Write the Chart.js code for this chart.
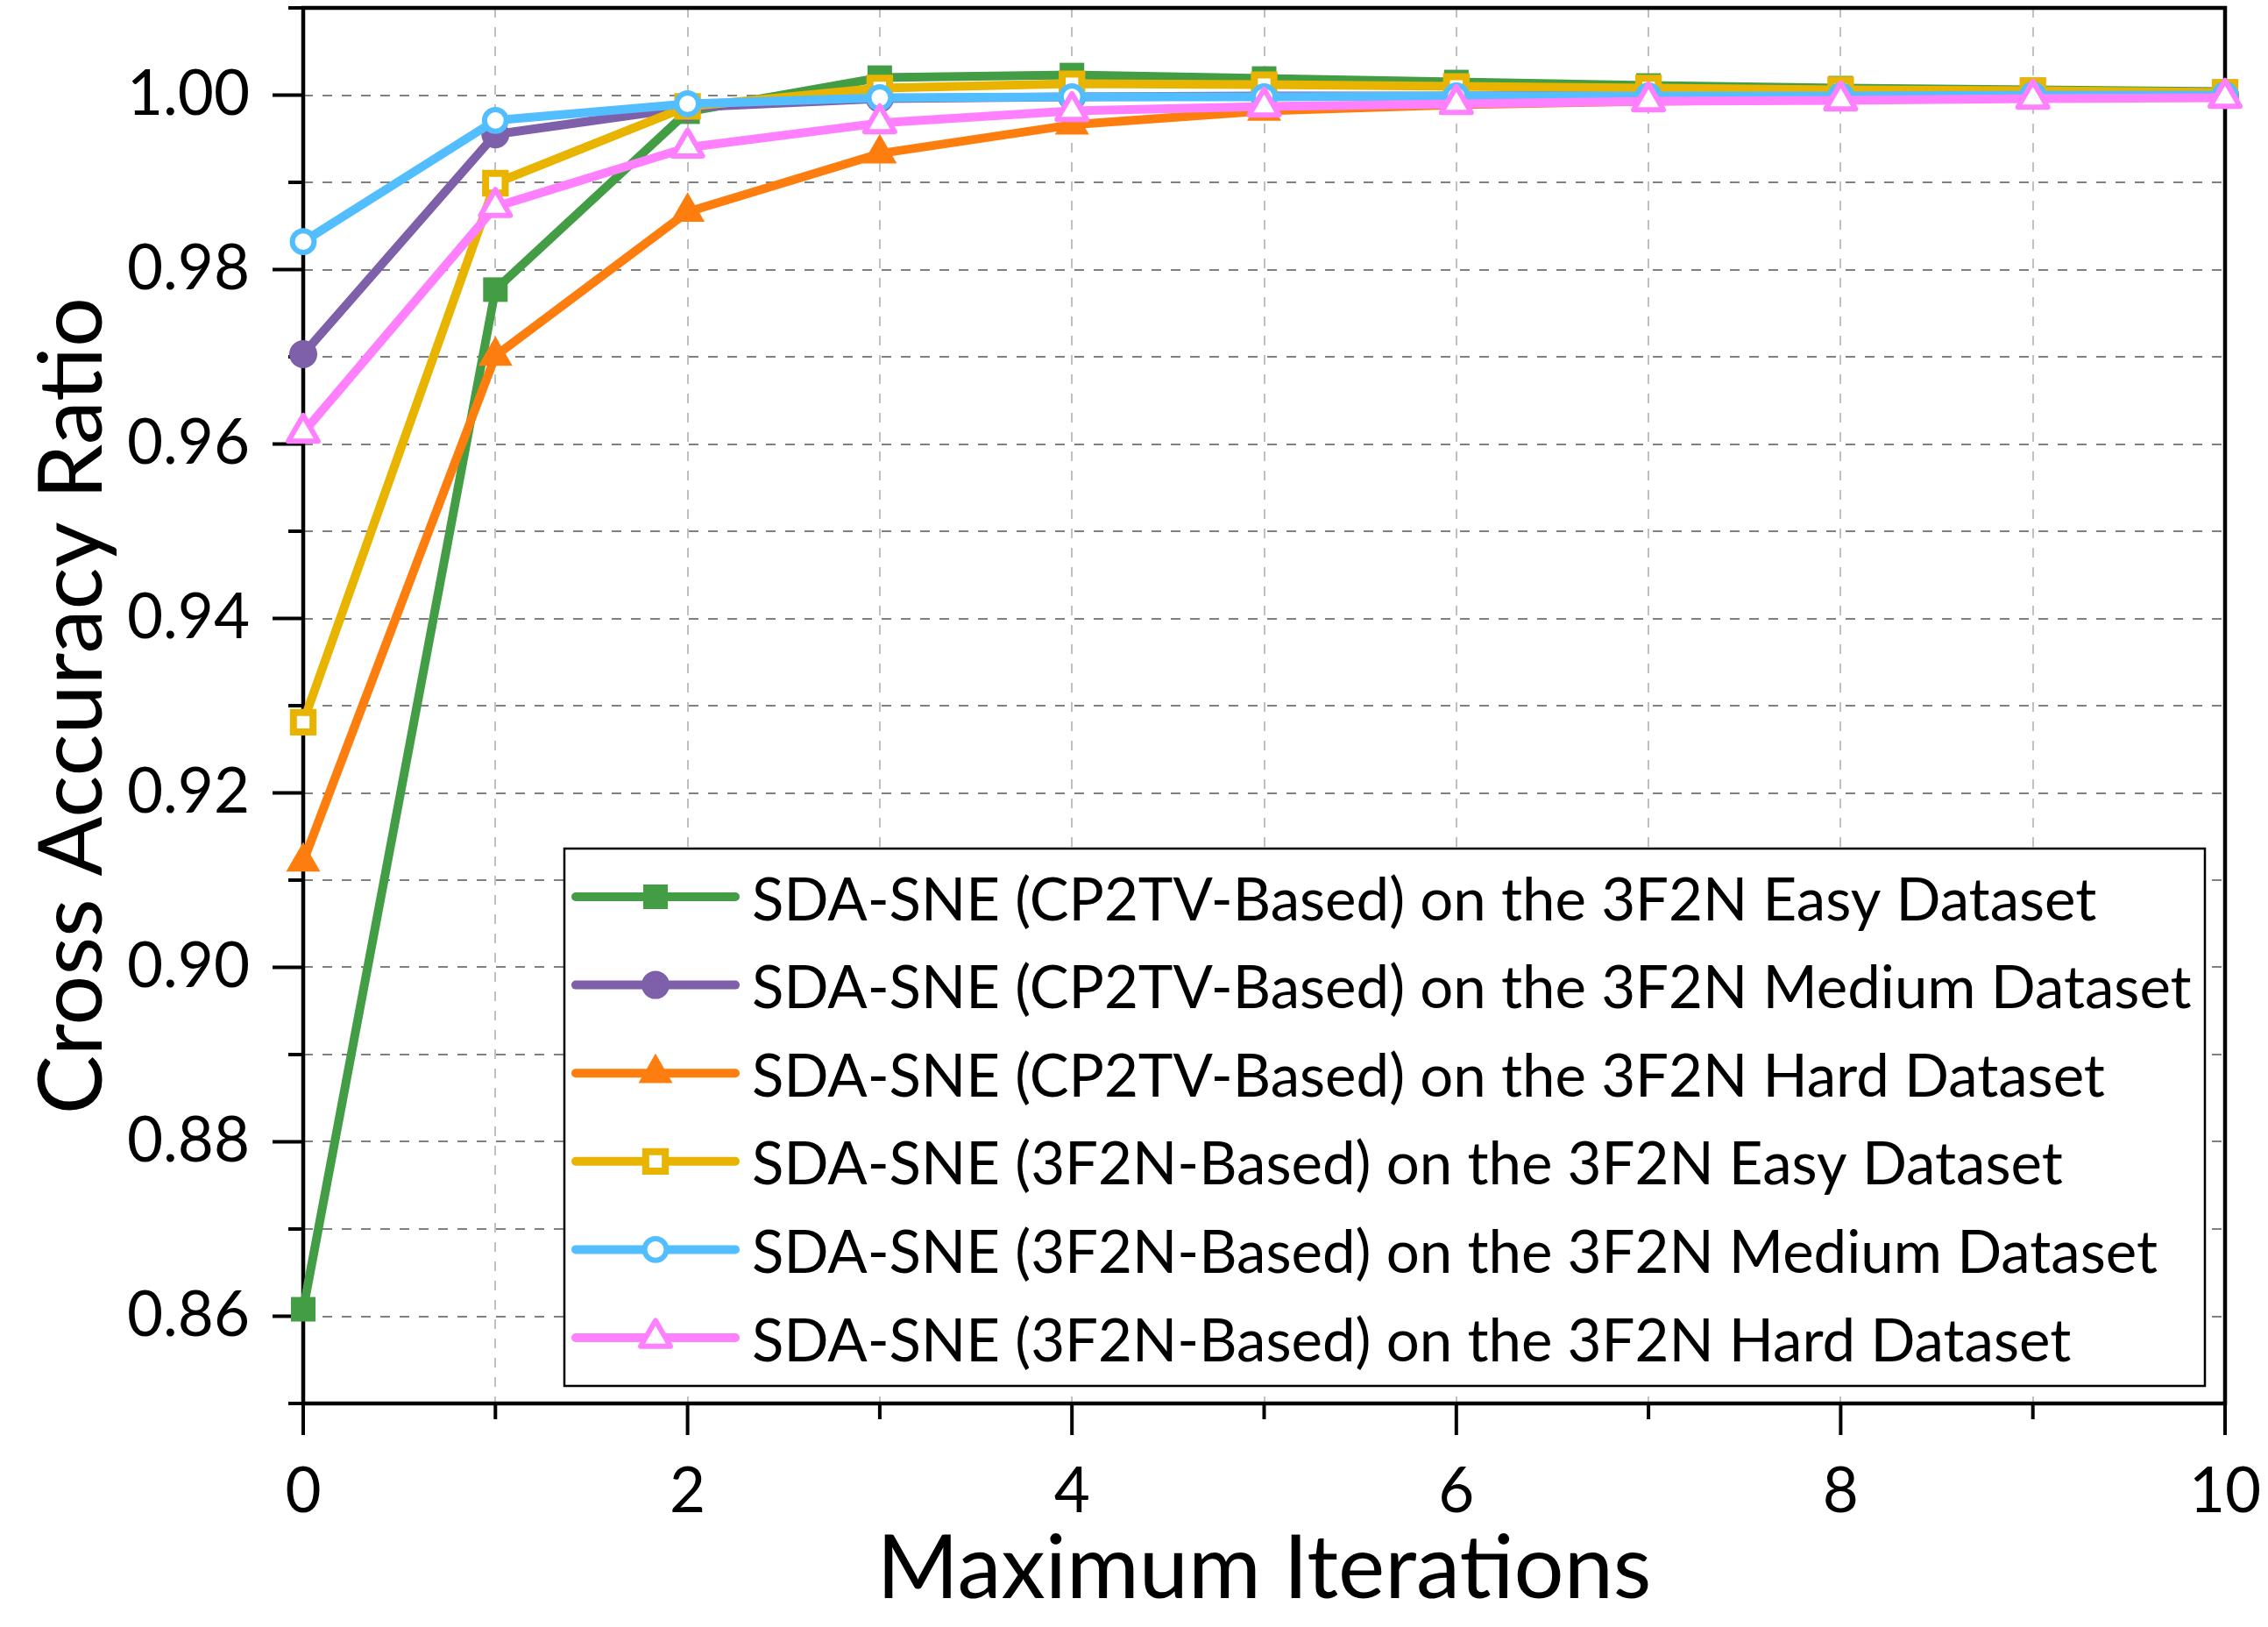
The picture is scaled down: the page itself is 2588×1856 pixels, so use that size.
<!DOCTYPE html>
<html>
<head>
<meta charset="utf-8">
<script src="https://cdn.jsdelivr.net/npm/chart.js@4/dist/chart.umd.min.js"></script>
<style>
html, body { margin: 0; padding: 0; background: #ffffff; overflow: hidden; }
canvas { display: block; }
</style>
</head>
<body>
<canvas id="chart" width="2588" height="1856" style="width:2588px;height:1856px"></canvas>
<script>
// ---------------- data ----------------
const iterations = [0, 1, 2, 3, 4, 5, 6, 7, 8, 9, 10];

const cp2tvEasy   = [0.8608, 0.9777, 0.9981, 1.0020, 1.0023, 1.0019, 1.0015, 1.0011, 1.0008, 1.0006, 1.0004];
const cp2tvMedium = [0.9703, 0.9955, 0.9986, 0.9996, 0.9998, 0.9999, 0.9999, 1.0000, 1.0000, 1.0000, 1.0000];
const cp2tvHard   = [0.9121, 0.9701, 0.9866, 0.9933, 0.9966, 0.9982, 0.9989, 0.9993, 0.9995, 0.9997, 0.9998];
const f3f2nEasy   = [0.9281, 0.9899, 0.9987, 1.0008, 1.0013, 1.0012, 1.0010, 1.0008, 1.0006, 1.0005, 1.0003];
const f3f2nMedium = [0.9832, 0.9971, 0.9990, 0.9997, 0.9998, 0.9998, 0.9999, 0.9999, 0.9999, 1.0000, 1.0000];
const f3f2nHard   = [0.9613, 0.9872, 0.9940, 0.9968, 0.9982, 0.9987, 0.9990, 0.9993, 0.9994, 0.9996, 0.9997];

const seriesLabels = [
  'SDA-SNE (CP2TV-Based) on the 3F2N Easy Dataset',
  'SDA-SNE (CP2TV-Based) on the 3F2N Medium Dataset',
  'SDA-SNE (CP2TV-Based) on the 3F2N Hard Dataset',
  'SDA-SNE (3F2N-Based) on the 3F2N Easy Dataset',
  'SDA-SNE (3F2N-Based) on the 3F2N Medium Dataset',
  'SDA-SNE (3F2N-Based) on the 3F2N Hard Dataset'
];
const seriesValues = [cp2tvEasy, cp2tvMedium, cp2tvHard, f3f2nEasy, f3f2nMedium, f3f2nHard];

const xTitle = 'Maximum Iterations';
const yTitle = 'Cross Accuracy Ratio';

// ---------------- styles ----------------
const seriesColors = ['#439D45', '#7E5FAA', '#FD7E0E', '#E8B400', '#52BEFF', '#FF80FF'];
const markerStyles = ['rect', 'circle', 'triangle', 'rect', 'circle', 'triangle'];
const markerRadius = [19.8, 16, 22.5, 15.8, 12.4, 19.6];
const markerHollow = [false, false, false, true, true, true];
const markerBorder = [0, 0, 0, 8, 6, 6];
const markerJoin   = ['miter', 'miter', 'miter', 'miter', 'round', 'round'];
const drawOrder    = [6, 5, 4, 3, 2, 1];
const LINE_WIDTH = 10;

const FAMILY = 'Lato, "Open Sans", "Noto Sans", sans-serif';

function fitSize(text, target) {
  const c = document.createElement('canvas').getContext('2d');
  c.font = '100px ' + FAMILY;
  return 100 * target / c.measureText(text).width;
}
function capOffsetDown(size) {
  const c = document.createElement('canvas').getContext('2d');
  c.font = size + 'px ' + FAMILY;
  c.textBaseline = 'middle';
  const m = c.measureText('H0');
  return (m.actualBoundingBoxDescent - m.actualBoundingBoxAscent) / 2;
}

const tickSize = fitSize('1.00', 140);
const legendSize = fitSize(seriesLabels[1], 1643);
const titleSize = fitSize(xTitle, 884);

const tickOff = capOffsetDown(tickSize);
const titleOff = capOffsetDown(titleSize);

const Y_AXIS_WIDTH = 346;
const X_AXIS_HEIGHT = 255;

// ---------------- plugins ----------------
const joinPlugin = {
  id: 'markerJoin',
  beforeDatasetDraw(chart, args) {
    chart.ctx.save();
    chart.ctx.lineJoin = chart.data.datasets[args.index].markerJoin || 'miter';
  },
  afterDatasetDraw(chart) {
    chart.ctx.restore();
  }
};

const framePlugin = {
  id: 'originFrame',
  beforeDatasetsDraw(chart) {
    const {ctx, chartArea: a, scales} = chart;
    const xs = scales.x, ys = scales.y;
    ctx.save();
    ctx.strokeStyle = '#000000';
    ctx.lineCap = 'butt';
    ctx.lineWidth = 4;
    ys.ticks.forEach(t => {
      const py = ys.getPixelForValue(t.value);
      const major = Math.round(t.value * 100) % 2 === 0;
      const len = major ? 35 : 17;
      ctx.beginPath();
      ctx.moveTo(a.left - len, py);
      ctx.lineTo(a.left, py);
      ctx.stroke();
    });
    xs.ticks.forEach(t => {
      const px = xs.getPixelForValue(t.value);
      const major = Math.round(t.value) % 2 === 0;
      const len = major ? 36 : 18;
      ctx.beginPath();
      ctx.moveTo(px, a.bottom);
      ctx.lineTo(px, a.bottom + len);
      ctx.stroke();
    });
    ctx.lineWidth = 4.5;
    ctx.lineJoin = 'miter';
    ctx.strokeRect(a.left, a.top, a.right - a.left, a.bottom - a.top);
    ctx.restore();
  }
};

function drawMarker(ctx, style, r, x, y, bw) {
  if (window.Chart && Chart.helpers && Chart.helpers.drawPoint) {
    Chart.helpers.drawPoint(ctx, {pointStyle: style, radius: r, rotation: 0, borderWidth: bw}, x, y);
    return;
  }
  ctx.beginPath();
  if (style === 'circle') {
    ctx.arc(x, y, r, 0, Math.PI * 2);
  } else if (style === 'rect') {
    const s = Math.SQRT1_2 * r;
    ctx.rect(x - s, y - s, 2 * s, 2 * s);
  } else {
    ctx.moveTo(x, y - r);
    ctx.lineTo(x + 0.866 * r, y + 0.5 * r);
    ctx.lineTo(x - 0.866 * r, y + 0.5 * r);
    ctx.closePath();
  }
  ctx.fill();
  if (bw > 0) ctx.stroke();
}

const legendPlugin = {
  id: 'boxLegend',
  afterDatasetsDraw(chart) {
    const {ctx, chartArea: a} = chart;
    const right = a.right - 23;
    const bottom = a.bottom - 20;
    const left = a.left + 298;
    const height = 613;
    const top = bottom - height;
    ctx.save();
    ctx.fillStyle = '#ffffff';
    ctx.fillRect(left, top, right - left, height);
    ctx.strokeStyle = '#000000';
    ctx.lineWidth = 2.5;
    ctx.strokeRect(left, top, right - left, height);

    ctx.font = legendSize + 'px ' + FAMILY;
    ctx.textBaseline = 'middle';
    const off = capOffsetDown(legendSize);
    const pitch = 100.6;
    seriesLabels.forEach((label, i) => {
      const cy = top + 55 + i * pitch;
      const col = seriesColors[i];
      ctx.strokeStyle = col;
      ctx.lineWidth = LINE_WIDTH;
      ctx.lineCap = 'round';
      ctx.beginPath();
      ctx.moveTo(left + 13, cy);
      ctx.lineTo(left + 195, cy);
      ctx.stroke();
      ctx.lineCap = 'butt';
      ctx.lineJoin = markerJoin[i];
      ctx.fillStyle = markerHollow[i] ? '#ffffff' : col;
      ctx.strokeStyle = col;
      ctx.lineWidth = markerBorder[i];
      drawMarker(ctx, markerStyles[i], markerRadius[i], left + 104, cy, markerBorder[i]);
      ctx.fillStyle = '#000000';
      ctx.textAlign = 'left';
      ctx.fillText(label, left + 214, cy + 2 - off);
    });
    ctx.restore();
  }
};

// ---------------- chart ----------------
const datasets = seriesValues.map((vals, i) => ({
  label: seriesLabels[i],
  data: iterations.map((x, j) => ({x: x, y: vals[j]})),
  borderColor: seriesColors[i],
  backgroundColor: seriesColors[i],
  borderWidth: LINE_WIDTH,
  borderJoinStyle: 'round',
  tension: 0,
  pointStyle: markerStyles[i],
  pointRadius: markerRadius[i],
  pointHoverRadius: markerRadius[i],
  pointBackgroundColor: markerHollow[i] ? '#ffffff' : seriesColors[i],
  pointBorderColor: seriesColors[i],
  pointBorderWidth: markerBorder[i],
  markerJoin: markerJoin[i],
  clip: false,
  order: drawOrder[i]
}));

new Chart(document.getElementById('chart'), {
  type: 'line',
  data: {datasets},
  plugins: [joinPlugin, framePlugin, legendPlugin],
  options: {
    responsive: false,
    animation: false,
    devicePixelRatio: 1,
    layout: {autoPadding: false, padding: {top: 9, right: 49, left: 0, bottom: 0}},
    plugins: {legend: {display: false}, tooltip: {enabled: false}},
    scales: {
      x: {
        type: 'linear',
        min: 0,
        max: 10,
        afterFit: s => { s.height = X_AXIS_HEIGHT; s.paddingLeft = 0; s.paddingRight = 0; },
        ticks: {
          stepSize: 1,
          autoSkip: false,
          maxRotation: 0,
          color: '#000000',
          font: {family: FAMILY, size: tickSize},
          padding: 98 - tickSize * 0.6 - tickOff,
          callback: v => (Math.round(v) % 2 === 0 ? String(Math.round(v)) : '')
        },
        grid: {color: '#C0C0C0', lineWidth: 2, drawTicks: false},
        border: {display: false, dash: [11, 11]},
        title: {
          display: true,
          text: xTitle,
          color: '#000000',
          font: {family: FAMILY, size: titleSize},
          padding: {top: 0, bottom: 70 - titleSize * 0.6 + titleOff}
        }
      },
      y: {
        type: 'linear',
        min: 0.85,
        max: 1.01,
        afterFit: s => { s.width = Y_AXIS_WIDTH; s.paddingTop = 0; s.paddingBottom = 0; },
        ticks: {
          stepSize: 0.01,
          autoSkip: false,
          color: '#000000',
          font: {family: FAMILY, size: tickSize},
          padding: 61,
          callback: v => {
            const k = Math.round(v * 100);
            return k % 2 === 0 ? (k / 100).toFixed(2) : '';
          }
        },
        grid: {color: '#808080', lineWidth: 2, drawTicks: false},
        border: {display: false, dash: [11, 11]},
        title: {
          display: true,
          text: yTitle,
          color: '#000000',
          font: {family: FAMILY, size: titleSize},
          padding: {top: 79 - titleSize * 0.6 - titleOff, bottom: 0}
        }
      }
    }
  }
});
</script>
</body>
</html>
